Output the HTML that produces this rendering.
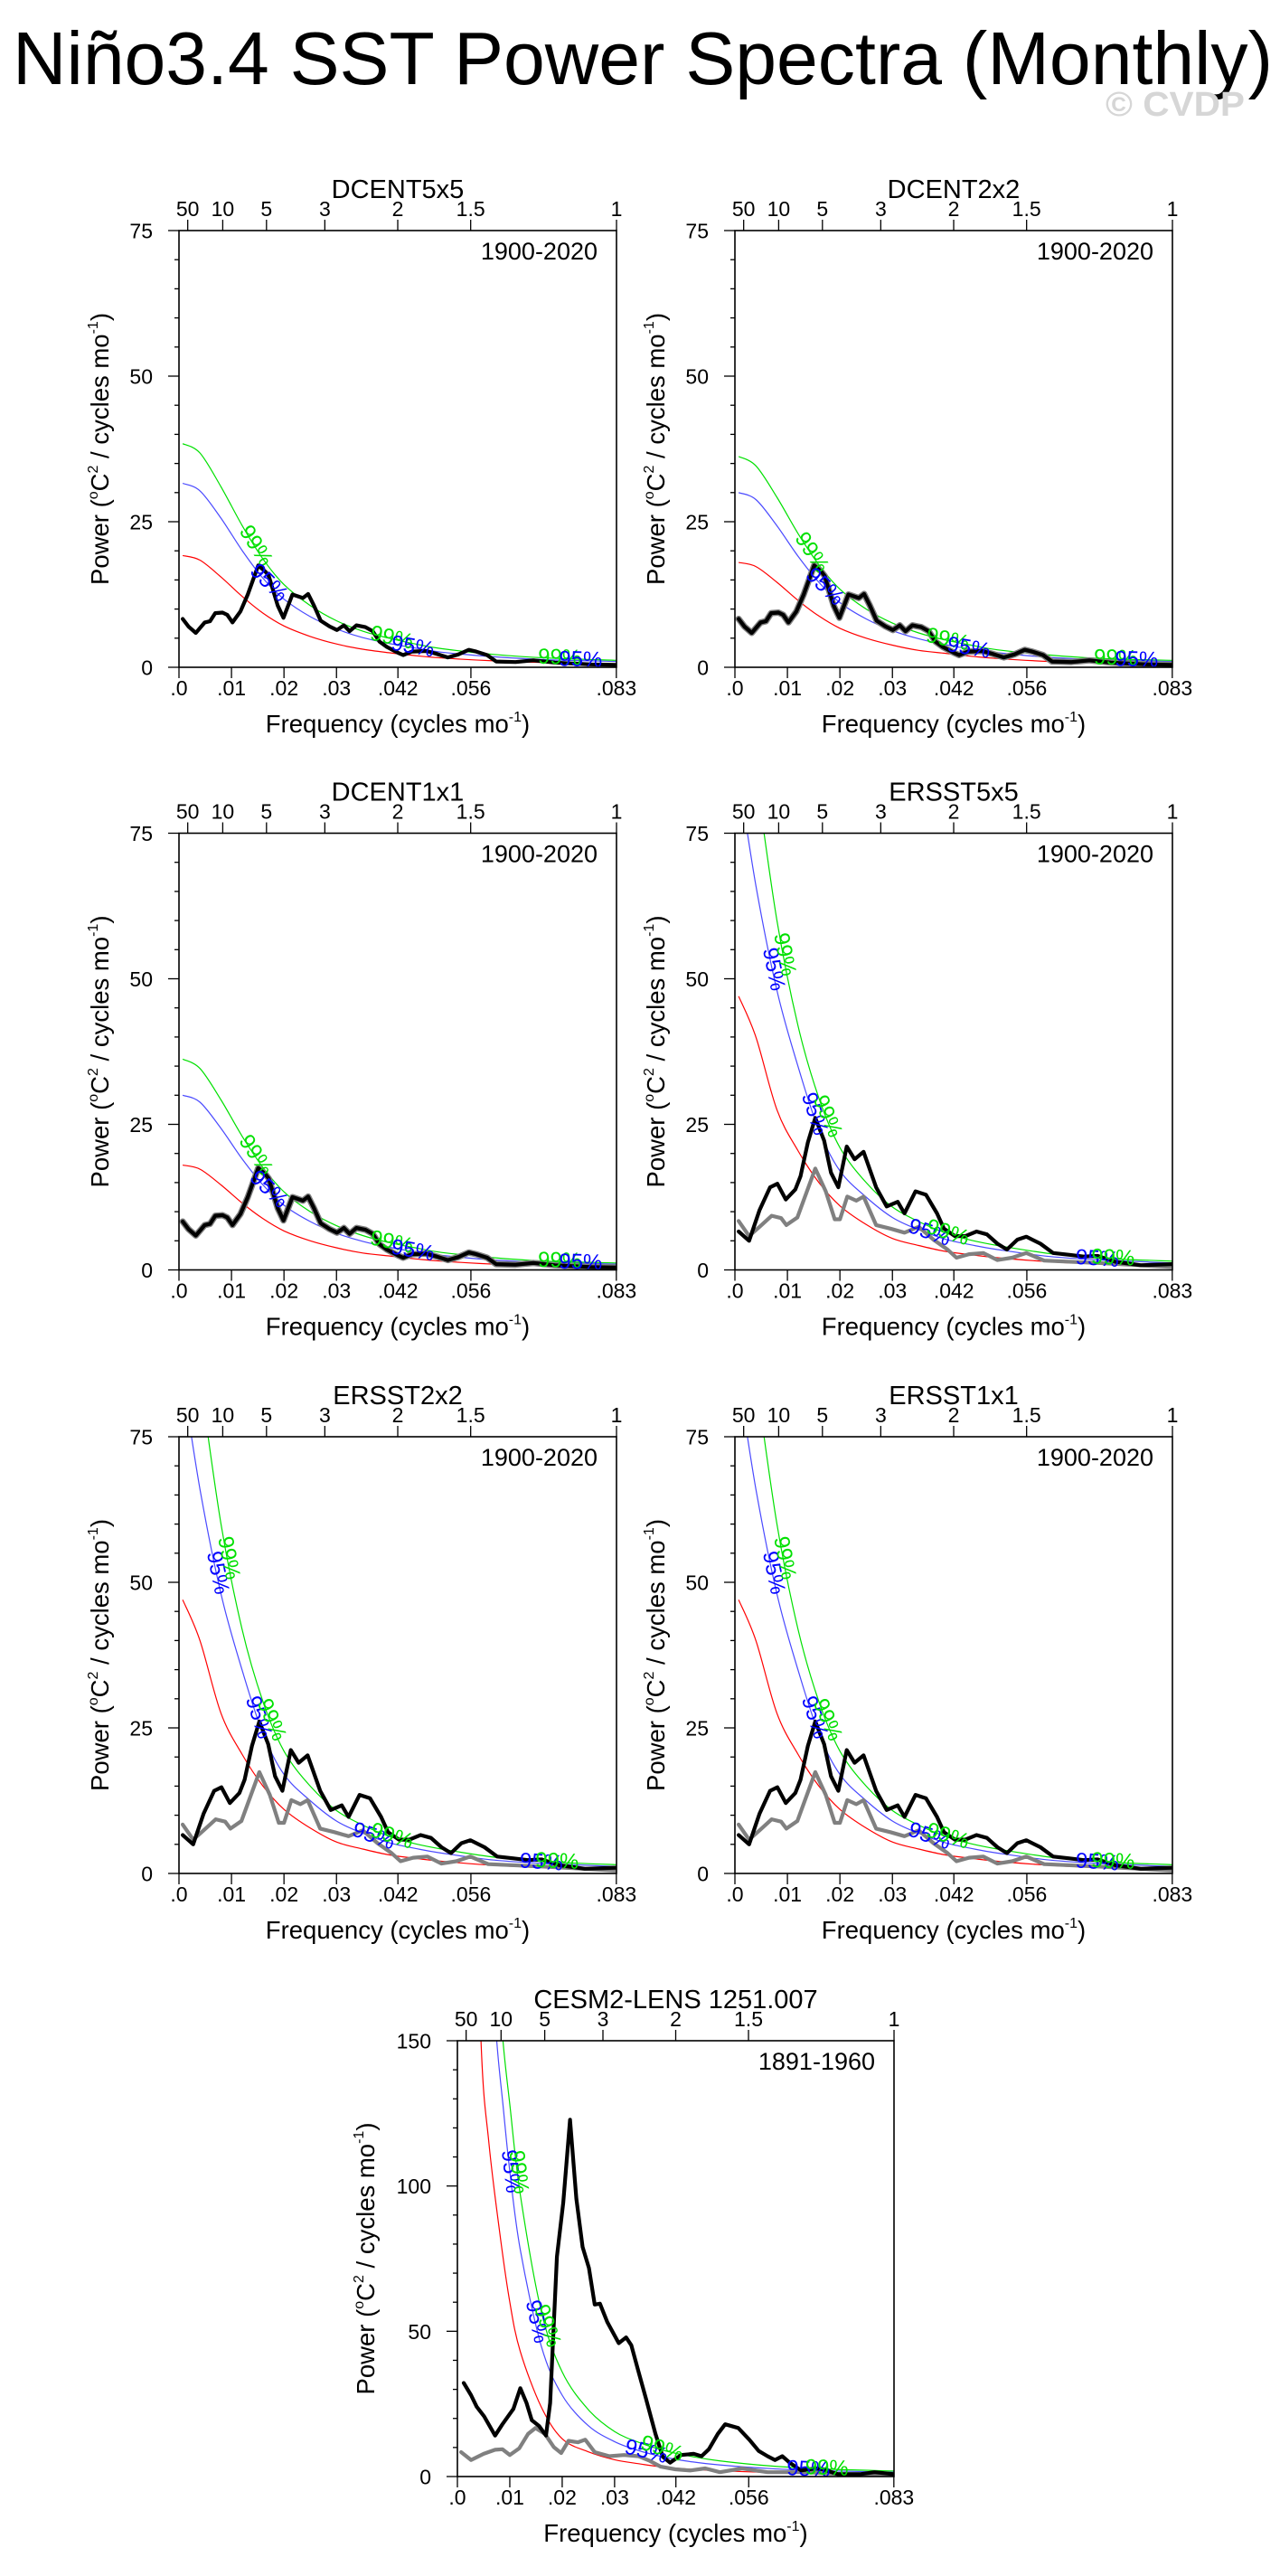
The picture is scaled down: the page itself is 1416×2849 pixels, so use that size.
<!DOCTYPE html>
<html><head><meta charset="utf-8"><title>Niño3.4 SST Power Spectra (Monthly)</title>
<style>
html,body{margin:0;padding:0;background:#fff;}
svg{display:block;font-family:"Liberation Sans",Arial,sans-serif;}
</style></head>
<body>
<svg id="fig" width="1416" height="2849" viewBox="0 0 1416 2849" xmlns="http://www.w3.org/2000/svg">
<text x="14" y="93" font-size="83" textLength="1394" lengthAdjust="spacingAndGlyphs" fill="#000">Niño3.4 SST Power Spectra (Monthly)</text>
<text x="1223" y="128" font-size="38" textLength="154" lengthAdjust="spacingAndGlyphs" fill="#d6d6d6" font-weight="bold">© CVDP</text>
</svg>
<script>
// ---------- data ----------
const xTickVals=[0,0.01,0.02,0.03,0.0417,0.0556,0.0833];
const xTickLabels=[".0",".01",".02",".03",".042",".056",".083"];
const periodVals=[50,10,5,3,2,1.5,1];
const periodLabels=["50","10","5","3","2","1.5","1"];

const dcentFreq=[.0007,.0018,.0032,.0049,.0059,.0069,.0083,.0092,.0102,.0117,.0131,.0151,.0165,.0171,.0188,.0199,.0216,.0236,.0246,.0257,.0270,.0287,.0301,.0314,.0325,.0338,.0355,.0369,.0382,.0396,.0417,.0427,.0444,.0471,.0491,.0512,.0532,.0552,.0566,.0587,.0604,.0641,.0675,.0716,.0784,.0833];
const dcentPower=[8.3,7.0,5.9,7.7,7.9,9.3,9.4,9.0,7.7,9.6,12.5,17.5,16.4,15.7,10.6,8.5,12.5,11.9,12.6,10.6,8.0,7.0,6.4,7.2,6.2,7.2,6.9,6.2,4.4,3.5,2.5,2.1,2.7,2.8,2.3,1.7,2.2,3.0,2.7,2.1,1.0,0.9,1.2,0.8,0.5,0.4];

const refFreq=[.0007,.004,.008,.012,.016,.020,.025,.030,.035,.040,.045,.050,.060,.070,.0833];
const dcent5Red=[19.2,18.4,15.5,12.2,9.3,7.1,5.3,4.0,3.1,2.5,2.0,1.6,1.1,0.8,0.6];
const dcent5Blue=[31.6,30.3,25.6,20.1,15.3,11.7,8.7,6.6,5.1,4.1,3.3,2.6,1.8,1.3,1.0];
const dcent5Green=[38.4,36.8,31.0,24.4,18.6,14.2,10.6,8.0,6.2,5.0,4.0,3.2,2.2,1.6,1.2];
const dcent2Red=[18.0,17.3,14.6,11.5,8.8,6.7,5.0,3.8,2.9,2.4,1.9,1.5,1.0,0.8,0.6];
const dcent2Blue=[30.0,28.8,24.3,19.1,14.6,11.1,8.3,6.3,4.9,3.9,3.1,2.5,1.7,1.3,1.0];
const dcent2Green=[36.2,34.6,29.2,23.0,17.6,13.4,10.0,7.6,5.9,4.7,3.8,3.0,2.1,1.5,1.2];

const ersstFreq=[.0007,.0027,.0047,.0067,.0081,.0097,.0115,.0125,.0139,.0153,.0170,.0183,.0197,.0213,.0228,.0245,.0269,.0289,.0310,.0323,.0344,.0364,.0385,.0398,.0419,.0439,.0460,.0480,.0500,.0518,.0538,.0555,.0582,.0606,.0637,.0664,.0691,.0725,.0773,.0833];
const ersstPower=[6.6,5.0,10.3,14.2,14.8,12.1,13.8,16.1,21.9,26.1,22.2,16.7,14.2,21.2,19.0,20.3,14.2,10.9,11.7,9.7,13.5,12.9,9.7,7.1,5.8,5.8,6.6,6.1,4.5,3.5,5.2,5.7,4.5,2.9,2.6,2.3,2.4,1.4,0.8,1.0];
const ersstGrayFreq=[.0007,.0027,.0047,.0070,.0088,.0098,.0119,.0153,.0173,.0190,.0200,.0214,.0231,.0245,.0269,.0296,.0323,.0350,.0378,.0405,.0422,.0446,.0473,.0500,.0528,.0555,.0589,.0691,.0833];
const ersstGrayPower=[8.4,5.8,7.4,9.3,8.9,7.7,9.0,17.4,13.5,8.7,8.7,12.6,11.9,12.6,7.7,7.1,6.4,7.4,5.2,3.5,2.1,2.7,2.9,1.7,2.1,2.9,1.6,1.2,0.5];
const ersstRed=[47,40,27.5,20.5,15,11,7.8,5.4,4.2,3.2,2.6,2.1,1.4,1.0,0.7];
const ersstBlue=[85,66,48,35,24,17,12.5,9.0,6.9,5.3,4.3,3.5,2.3,1.7,1.2];
const ersstGreen=[105,85,60,42,29.5,21,15,10.8,8.3,6.4,5.1,4.2,2.8,2.0,1.5];

const cesmFreq=[.0012,.0026,.0037,.0051,.0072,.0086,.0107,.0120,.0132,.0142,.0156,.0169,.0177,.0190,.0202,.0215,.0227,.0239,.0251,.0262,.0272,.0286,.0308,.0322,.0332,.0346,.0360,.0378,.0392,.0406,.0427,.0451,.0466,.0480,.0497,.0511,.0536,.0557,.0575,.0592,.0606,.0620,.0634,.0656,.0684,.0698,.0726,.0768,.0796,.0833];
const cesmPower=[32.2,28,24,20.7,14.1,18,23.3,30.4,25.3,19.4,17.4,14.1,25.3,75.7,94.3,122.8,95.6,79,71.8,59.2,59.5,53.2,45.9,47.9,45.2,35.9,26.7,14.7,6.8,4.8,7.4,7.8,7.0,9.4,14.7,18,16.7,12.7,8.8,7.0,5.7,7.0,4.8,2.1,2.8,2.5,0.8,0.8,1.5,0.8];
const cesmGrayFreq=[.0007,.0026,.0050,.0072,.0086,.0100,.0118,.0135,.0149,.0167,.0184,.0198,.0212,.0230,.0244,.0262,.0290,.0318,.0346,.0367,.0388,.0416,.0444,.0473,.0501,.0543,.0592,.0663,.0733,.0833];
const cesmGrayPower=[8.4,5.7,7.8,9.2,9.4,7.4,9.7,14.7,16.7,14.7,10.1,8.1,12.3,11.8,12.7,8.4,7.0,7.4,7.0,5.4,3.4,2.5,2.1,2.8,1.5,2.8,1.5,1.5,0.8,0.8];
const cesmRedFreq=[.0007,.003,.0045,.006,.008,.010,.012,.016,.020,.025,.030,.035,.040,.045,.050,.060,.070,.0833];
const cesmRed=[400,250,150,115,85,60,43,24,13,8.5,5.8,4.3,3.1,2.5,2.0,1.4,1.1,0.8];
const cesmSigFreq=[.004,.006,.0075,.0087,.010,.012,.016,.020,.025,.030,.035,.040,.045,.050,.060,.070,.0833];
const cesmBlue=[320,190,150,128,105,78,45,28,17.5,12,8.7,6.5,5.0,4.0,2.7,2.0,1.5];
const cesmGreen=[400,260,180,150,128,97,57,36,23,15.5,11.5,8.7,6.8,5.4,3.6,2.6,1.9];

// ---------- drawing ----------
const NS="http://www.w3.org/2000/svg";
const svg=document.getElementById('fig');
const FMAX=0.08333;
function mk(tag,attrs,parent){const e=document.createElementNS(NS,tag);for(const k in attrs)e.setAttribute(k,attrs[k]);(parent||svg).appendChild(e);return e;}
function interp(fa,va,f){if(f<=fa[0])return va[0];for(let i=1;i<fa.length;i++){if(f<=fa[i]){const t=(f-fa[i-1])/(fa[i]-fa[i-1]);return va[i-1]+t*(va[i]-va[i-1]);}}return va[va.length-1];}
function smoothPath(pts){let d="M"+pts[0][0].toFixed(1)+","+pts[0][1].toFixed(1);for(let i=0;i<pts.length-1;i++){const p0=pts[Math.max(0,i-1)],p1=pts[i],p2=pts[i+1],p3=pts[Math.min(pts.length-1,i+2)];const c1=[p1[0]+(p2[0]-p0[0])/6,p1[1]+(p2[1]-p0[1])/6];const c2=[p2[0]-(p3[0]-p1[0])/6,p2[1]-(p3[1]-p1[1])/6];d+=" C"+c1[0].toFixed(1)+","+c1[1].toFixed(1)+" "+c2[0].toFixed(1)+","+c2[1].toFixed(1)+" "+p2[0].toFixed(1)+","+p2[1].toFixed(1);}return d;}

let clipId=0;
function panel(c){
  const g=mk('g',{});
  
  
  const sx=f=>c.x+f/FMAX*c.w;
  const sy=v=>c.y+c.h-v/c.ymax*c.h;
  const id='clip'+(clipId++);
  const cp=mk('clipPath',{id:id},g);mk('rect',{x:c.x,y:c.y,width:c.w,height:c.h},cp);
  const plot=mk('g',{'clip-path':'url(#'+id+')'},g);
  const refs=[[c.redF,c.red,'#ff0000','red-noise-curve'],[c.sigF,c.blue,'#4a4aff','sig95-curve'],[c.sigF,c.green,'#00e000','sig99-curve']];
  refs.forEach(r=>{const pts=r[0].map((f,i)=>[sx(f),sy(r[1][i])]);
    const p=mk('path',{d:smoothPath(pts),fill:'none',stroke:r[2],'stroke-width':1.2},plot);
    
    });
  if(c.grayF){const p=mk('polyline',{points:c.grayF.map((f,i)=>sx(f).toFixed(1)+","+sy(c.grayV[i]).toFixed(1)).join(" "),fill:'none',stroke:'#808080','stroke-width':c.grayW||4.2,'stroke-linejoin':'round','stroke-linecap':'round'},plot);
    
    }
  const bl=mk('polyline',{points:c.bF.map((f,i)=>sx(f).toFixed(1)+","+sy(c.bV[i]).toFixed(1)).join(" "),fill:'none',stroke:'#000','stroke-width':4.2,'stroke-linejoin':'round','stroke-linecap':'round'},plot);
  
  
  c.labels.forEach(L=>{const fa=c.sigF,va=L[1]==='99%'?c.green:c.blue;const col=L[1]==='99%'?'#00e000':'#0000ff';
    const px=sx(L[0]),py=sy(interp(fa,va,L[0]));const df=0.0008;
    const dx=sx(L[0]+df)-sx(L[0]-df),dy=sy(interp(fa,va,L[0]+df))-sy(interp(fa,va,L[0]-df));
    const ang=Math.atan2(dy,dx)*180/Math.PI;
    const t=mk('text',{x:px.toFixed(1),y:py.toFixed(1),'font-size':24,fill:col,'text-anchor':'middle','dominant-baseline':'middle',transform:'rotate('+ang.toFixed(1)+' '+px.toFixed(1)+' '+py.toFixed(1)+')'},plot);
    t.textContent=L[1];
    
    });
  const fr=mk('rect',{x:c.x,y:c.y,width:c.w,height:c.h,fill:'none',stroke:'#000','stroke-width':1.6},g);
  
  
  for(let v=0;v<=c.ymax+1e-9;v+=c.yminor){const maj=Math.abs(v/c.ymajor-Math.round(v/c.ymajor))<1e-6;
    mk('line',{x1:c.x-(maj?12:5),x2:c.x,y1:sy(v),y2:sy(v),stroke:'#000','stroke-width':1.3},g);
    if(maj){const t=mk('text',{x:c.x-29,y:sy(v)+8.5,'font-size':23,'text-anchor':'end'},g);t.textContent=String(v);
      
      }}
  xTickVals.forEach((f,i)=>{mk('line',{x1:sx(f),x2:sx(f),y1:c.y+c.h,y2:c.y+c.h+12,stroke:'#000','stroke-width':1.3},g);
    const t=mk('text',{x:sx(f),y:c.y+c.h+31,'font-size':23,'text-anchor':'middle'},g);t.textContent=xTickLabels[i];
    
    });
  periodVals.forEach((p,i)=>{const f=1/(12*p);mk('line',{x1:sx(f),x2:sx(f),y1:c.y-12,y2:c.y,stroke:'#000','stroke-width':1.3},g);
    const t=mk('text',{x:sx(f),y:c.y-16,'font-size':23,'text-anchor':'middle'},g);t.textContent=periodLabels[i];
    
    });
  const tt=mk('text',{x:c.x+c.w/2,y:c.y-36,'font-size':29,'text-anchor':'middle'},g);tt.textContent=c.title;
  
  
  const yr=mk('text',{x:c.x+c.w-21,y:c.y+32,'font-size':27,'text-anchor':'end'},g);yr.textContent=c.years;
  
  
  const xt=mk('text',{x:c.x+c.w/2,y:c.y+c.h+72,'font-size':27.5,'text-anchor':'middle'},g);
  xt.innerHTML='Frequency (cycles mo<tspan font-size="16" dy="-12">-1</tspan><tspan dy="12">)</tspan>';
  
  
  const cy=c.y+c.h/2,cx=c.x-(c.ytx||78);
  const yt=mk('text',{x:cx,y:cy,'font-size':27.5,'text-anchor':'middle',transform:'rotate(-90 '+cx+' '+cy+')'},g);
  yt.innerHTML='Power (<tspan font-size="16" dy="-12">o</tspan><tspan dy="12">C</tspan><tspan font-size="16" dy="-12">2</tspan><tspan dy="12"> / cycles mo</tspan><tspan font-size="16" dy="-12">-1</tspan><tspan dy="12">)</tspan>';
  
  
}

const dLabels=[[0.0145,'99%'],[0.0170,'95%'],[0.0405,'99%'],[0.0445,'95%'],[0.0725,'99%'],[0.0765,'95%']];
const eLabels=[[0.0072,'95%'],[0.0093,'99%'],[0.0150,'95%'],[0.0175,'99%'],[0.0370,'95%'],[0.0405,'99%'],[0.0690,'95%'],[0.0720,'99%']];
const cLabels=[[0.0100,'95%'],[0.0115,'99%'],[0.0150,'95%'],[0.0170,'99%'],[0.0360,'95%'],[0.0390,'99%'],[0.0670,'95%'],[0.0705,'99%']];

const W=484,Hh=483;
panel({name:'panel-dcent5x5',x:198,y:255,w:W,h:Hh,title:'DCENT5x5',years:'1900-2020',ymax:75,ymajor:25,yminor:5,bF:dcentFreq,bV:dcentPower,redF:refFreq,red:dcent5Red,sigF:refFreq,blue:dcent5Blue,green:dcent5Green,labels:dLabels});
panel({name:'panel-dcent2x2',x:813,y:255,w:W,h:Hh,title:'DCENT2x2',years:'1900-2020',ymax:75,ymajor:25,yminor:5,bF:dcentFreq,bV:dcentPower,grayF:dcentFreq,grayV:dcentPower,grayW:7,redF:refFreq,red:dcent2Red,sigF:refFreq,blue:dcent2Blue,green:dcent2Green,labels:dLabels});
panel({name:'panel-dcent1x1',x:198,y:921.5,w:W,h:Hh,title:'DCENT1x1',years:'1900-2020',ymax:75,ymajor:25,yminor:5,bF:dcentFreq,bV:dcentPower,grayF:dcentFreq,grayV:dcentPower,grayW:7,redF:refFreq,red:dcent2Red,sigF:refFreq,blue:dcent2Blue,green:dcent2Green,labels:dLabels});
panel({name:'panel-ersst5x5',x:813,y:921.5,w:W,h:Hh,title:'ERSST5x5',years:'1900-2020',ymax:75,ymajor:25,yminor:5,bF:ersstFreq,bV:ersstPower,grayF:ersstGrayFreq,grayV:ersstGrayPower,redF:refFreq,red:ersstRed,sigF:refFreq,blue:ersstBlue,green:ersstGreen,labels:eLabels});
panel({name:'panel-ersst2x2',x:198,y:1589,w:W,h:Hh,title:'ERSST2x2',years:'1900-2020',ymax:75,ymajor:25,yminor:5,bF:ersstFreq,bV:ersstPower,grayF:ersstGrayFreq,grayV:ersstGrayPower,redF:refFreq,red:ersstRed,sigF:refFreq,blue:ersstBlue,green:ersstGreen,labels:eLabels});
panel({name:'panel-ersst1x1',x:813,y:1589,w:W,h:Hh,title:'ERSST1x1',years:'1900-2020',ymax:75,ymajor:25,yminor:5,bF:ersstFreq,bV:ersstPower,grayF:ersstGrayFreq,grayV:ersstGrayPower,redF:refFreq,red:ersstRed,sigF:refFreq,blue:ersstBlue,green:ersstGreen,labels:eLabels});
panel({name:'panel-cesm2-lens',x:506,y:2257,w:483,h:482,title:'CESM2-LENS 1251.007',years:'1891-1960',ymax:150,ymajor:50,yminor:10,ytx:92,bF:cesmFreq,bV:cesmPower,grayF:cesmGrayFreq,grayV:cesmGrayPower,redF:cesmRedFreq,red:cesmRed,sigF:cesmSigFreq,blue:cesmBlue,green:cesmGreen,labels:cLabels});
</script>
</body></html>
